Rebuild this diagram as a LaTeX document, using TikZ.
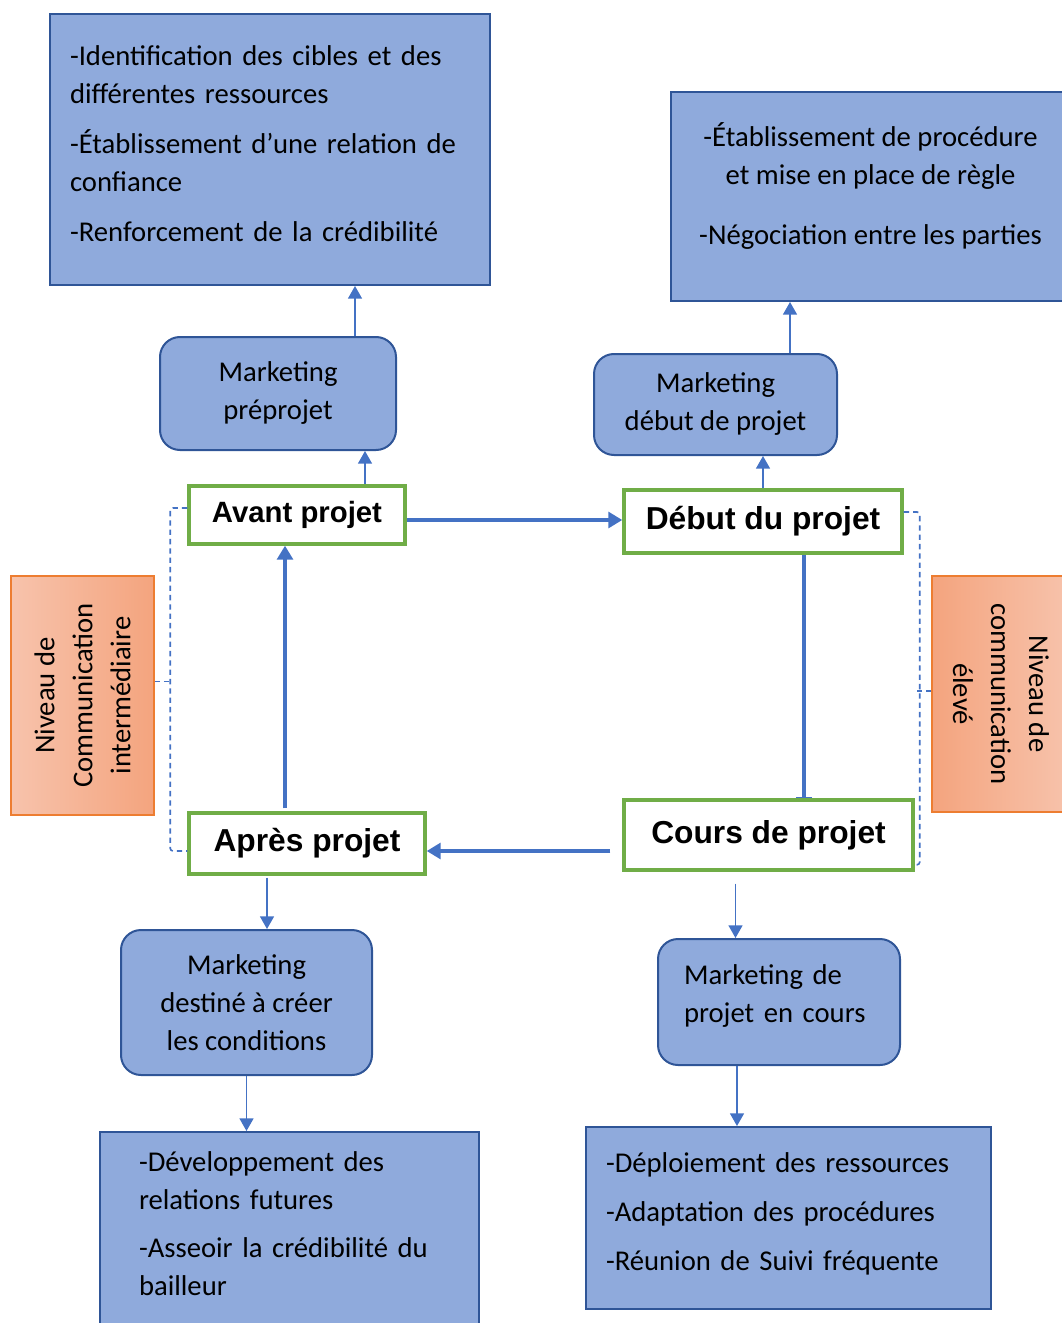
\documentclass[tikz,border=0pt]{standalone}
\usepackage{fontspec}
\setmainfont{Carlito}
\newfontfamily\arialfont{Liberation Sans}
\usetikzlibrary{arrows.meta}
\usetikzlibrary{calc}

\definecolor{boxfill}{HTML}{8FAADC}
\definecolor{boxline}{HTML}{2F5597}
\definecolor{linkblue}{HTML}{4472C4}
\definecolor{stagegreen}{HTML}{70AD47}
\definecolor{lvlline}{HTML}{ED7D31}
\definecolor{lvllight}{HTML}{F7C3AC}
\definecolor{lvldark}{HTML}{F4A47E}

\tikzset{
  infobox/.style={draw=boxline, fill=boxfill, line width=1.5pt, inner xsep=15pt,
    font=\fontsize{21.5}{28.5}\selectfont},
  mkbox/.style={infobox, rounded corners=15pt, align=center},
  stage/.style={draw=stagegreen, fill=white, line width=2.6pt,
    font=\arialfont\bfseries\fontsize{#1}{26}\selectfont},
  stage/.default=23.8,
  level/.style={draw=lvlline, line width=0.8pt,
    align=center, font=\fontsize{21.5}{28.5}\selectfont},
  link/.style={draw=linkblue, line width=1.1pt, -{Triangle[width=10.5pt,length=9.5pt]}},
  flow/.style={draw=linkblue, line width=2.4pt, -{Triangle[width=12pt,length=10.5pt]}},
  bracket/.style={draw=linkblue, line width=1.2pt, dash pattern=on 4pt off 3pt, rounded corners=2pt}
}

\begin{document}
\begin{tikzpicture}[x=0.75pt, y=-0.75pt]
\useasboundingbox (0,0) rectangle (1062,1323);

  \node [infobox, text width=300pt, align=left, text depth=141pt, minimum height=203.25pt] (topL) at (270,149.5)
    {-Identification des cibles et des\\différentes ressources\\[9pt]-Établissement d’une relation de\\confiance\\[9pt]-Renforcement de la crédibilité};
  \node [infobox, align=center, text depth=19.5pt, minimum width=299.25pt, minimum height=156.75pt] (topR) at (870.5,196.5)
    {-Établissement de procédure\\et mise en place de règle\\[16pt]-Négociation entre les parties};

  \node [mkbox, minimum width=177pt, minimum height=84.75pt] (mkpre) at (278,393.5)
    {Marketing\\préprojet};
  \node [mkbox, minimum width=182.25pt, minimum height=75.75pt] (mkdeb) at (715.5,404.5)
    {Marketing\\début de projet};

  \node [stage=22, minimum width=162pt, minimum height=43.5pt] (avant) at (297,515) {Avant projet};
  \node [stage, minimum width=208.5pt, minimum height=47.25pt] (debut) at (763,521.5) {Début du projet};
  \node [stage, minimum width=177pt, minimum height=45.75pt] (apres) at (307,843.5) {Après projet};
  \node [stage, minimum width=216.75pt, minimum height=52.5pt] (cours) at (768.5,835) {Cours de projet};

  \node [level, left color=lvllight, right color=lvldark, rotate=90,
    minimum width=179.25pt, minimum height=107.25pt] (lvlL) at (82.5,695.5)
    {Niveau de\\Communication\\intermédiaire};
  \node [level, left color=lvldark, right color=lvllight, rotate=-90,
    minimum width=177pt, minimum height=103.5pt] (lvlR) at (1001,694)
    {Niveau de\\communication\\élevé};

  \node [mkbox, minimum width=188.25pt, minimum height=108.75pt] (mkcond) at (246.5,1002.5)
    {Marketing\\destiné à créer\\les conditions};
  \node [mkbox, align=left, text width=142.5pt, inner xsep=19.5pt, text depth=40.5pt,
    minimum height=94.5pt] (mkcours) at (779,1002)
    {Marketing de\\projet en cours};

  \node [infobox, text width=225.75pt, inner xsep=29.25pt, align=left, text depth=103.5pt,
    minimum height=148.5pt] (actL) at (289.5,1231)
    {-Développement des\\relations futures\\[7.5pt]-Asseoir la crédibilité du\\bailleur};
  \node [infobox, text width=273.75pt, align=left, text depth=82.5pt,
    minimum height=136.5pt] (actR) at (788.5,1218)
    {-Déploiement des ressources\\[8pt]-Adaptation des procédures\\[8pt]-Réunion de Suivi fréquente};

  \draw  [link] ($(mkpre.north)+(77,0)$) coordinate (u1) -- (u1 |- topL.south);
  \draw  [link] ($(avant.north)+(68,0)$) coordinate (u2) -- (u2 |- mkpre.south);
  \draw  [link] (debut.north) -- (debut.north |- mkdeb.south);
  \draw  [link] ($(mkdeb.north)+(74.5,0)$) coordinate (u3) -- (u3 |- topR.south);

  \draw  [flow] ($(avant.east)+(0,5)$) coordinate (f1) -- (f1 -| debut.west);
  \draw  [flow, -{Bar[width=12pt,line width=1.1pt]}] ($(debut.south)+(41,0)$) coordinate (f2) -- (f2 |- cours.north);
  \draw  [flow] ($(cours.west)+(-12,16)$) coordinate (f3) -- (f3 -| apres.east);
  \draw  [flow] ($(apres.north)+(-22,-3)$) coordinate (f4) -- (f4 |- avant.south);

  \draw  [link] ($(apres.south)+(-40,2)$) coordinate (d1) -- (d1 |- mkcond.north);
  \draw  [link] (mkcond.south) -- (mkcond.south |- actL.north);
  \draw  [link] ($(cours.south)+(-33,12)$) coordinate (d2) -- (d2 |- mkcours.north);
  \draw  [link] ($(mkcours.south)+(-42,0)$) coordinate (d3) -- (d3 |- actR.north);

  \draw  [bracket] ($(avant.west)+(0,-7)$) -- ++(-17,0) |- ($(apres.west)+(0,7.5)$);
  \draw  [bracket] ($(lvlL.south)+(0,-14)$) -- ++(18,0);
  \draw  [bracket] ($(debut.east)+(0,-9.5)$) -- ++(16,0) |- ($(cours.south east)+(0,-7)$);
  \draw  [bracket] ($(lvlR.south)+(0,-3)$) -- ++(-14,0);
\end{tikzpicture}
\end{document}
